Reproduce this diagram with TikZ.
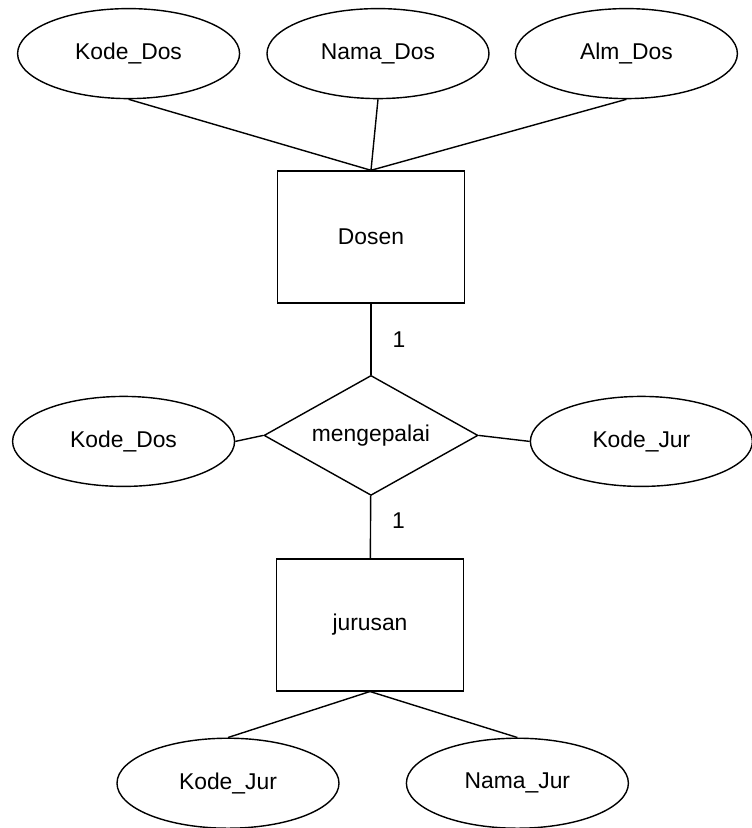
\documentclass[tikz,border=0pt]{standalone}
\usepackage{fontspec}
\setmainfont{Liberation Sans}
\usepackage{tikz}
\usetikzlibrary{shapes.geometric,positioning}

\begin{document}
\begin{tikzpicture}[line width=0.8pt, font=\fontsize{13}{15}\selectfont]

    \tikzstyle{ent} = [rectangle, minimum width=3.74cm, minimum height=2.64cm, text centered, draw=black]
    \tikzstyle{atr} = [ellipse, minimum width=4.44cm, minimum height=1.8cm, inner sep=0pt, draw=black]
    \tikzstyle{rel} = [diamond, aspect=1.8, minimum width=4.28cm, minimum height=2.4cm, inner sep=0pt, draw=black]

    \useasboundingbox (-7.42,4.74) rectangle (7.62,-11.82);

    \node (dosen)       [ent]                                        {Dosen};

    \node (namados)     [atr, above=1.42cm of dosen, xshift=0.14cm]  {Nama\_Dos};
    \node (kodedos)     [atr, left=0.52cm of namados]                {Kode\_Dos};
    \node (almdos)      [atr, right=0.5cm of namados]                {Alm\_Dos};

    \node (mengepalai)  [rel, below=1.42cm of dosen]                 {mengepalai};
    \node (kodedosrel)  [atr, left=0.56cm of mengepalai, yshift=-0.12cm]  {Kode\_Dos};
    \node (kodejurrel)  [atr, right=1.02cm of mengepalai, yshift=-0.12cm] {Kode\_Jur};

    \node (jurusan)     [ent, below=1.24cm of mengepalai, xshift=-0.02cm] {jurusan};

    \node (kodejur)     [atr, below=0.92cm of jurusan, xshift=-2.84cm] {Kode\_Jur};
    \node (namajur)     [atr, right=1.32cm of kodejur]               {Nama\_Jur};


    \path  (kodedos.south)  edge  (dosen.north);
    \path  (namados.south)  edge  (dosen.north);
    \path  (almdos.south)   edge  (dosen.north);

    \path  (dosen)       edge  node[xshift=0.56cm]          {1}  (mengepalai);
    \path  (mengepalai)  edge  node[pos=0.4, xshift=0.56cm] {1}  (jurusan);

    \path  (kodedosrel.east)  edge  (mengepalai.west);
    \path  (mengepalai.east)  edge  (kodejurrel.west);

    \path  (jurusan.south)  edge  (kodejur.north);
    \path  (jurusan.south)  edge  (namajur.north);
\end{tikzpicture}
\end{document}
